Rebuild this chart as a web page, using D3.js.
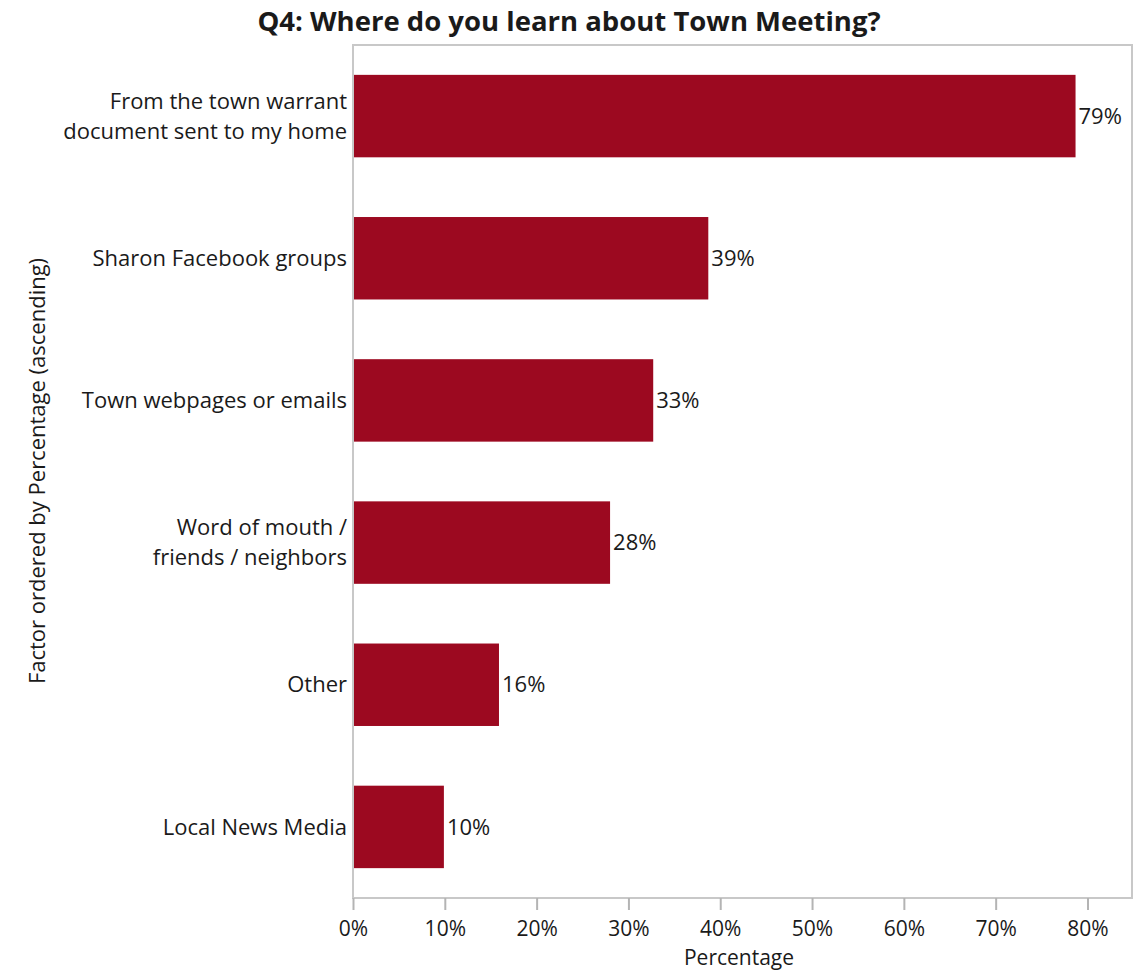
<!DOCTYPE html>
<html>
<head>
<meta charset="utf-8">
<script src="https://cdn.jsdelivr.net/npm/d3@7"></script>
<style>
  body { margin: 0; background: #fff; }
  text { font-family: "Open Sans", "Noto Sans", sans-serif; fill: #1a1a1a; }
</style>
</head>
<body>
<script>
const categories = [
  ['From the town warrant', 'document sent to my home'],
  ['Sharon Facebook groups'],
  ['Town webpages or emails'],
  ['Word of mouth /', 'friends / neighbors'],
  ['Other'],
  ['Local News Media'],
];
const values = [78.7, 38.7, 32.7, 28.0, 15.9, 9.9];
const valueLabels = ['79%', '39%', '33%', '28%', '16%', '10%'];
const xTicks = [0, 10, 20, 30, 40, 50, 60, 70, 80];

const W = 1142, H = 973;
const margin = { top: 45, right: 10, bottom: 75, left: 353 };
const width = W - margin.left - margin.right;
const height = H - margin.top - margin.bottom;

const svg = d3.select('body').append('svg')
  .attr('width', W)
  .attr('height', H);

svg.append('text')
  .attr('x', 569)
  .attr('y', 31)
  .attr('text-anchor', 'middle')
  .style('font-weight', 'bold')
  .style('font-size', '27.5px')
  .text('Q4: Where do you learn about Town Meeting?');

const g = svg.append('g')
  .attr('transform', `translate(${margin.left},${margin.top})`);

const x = d3.scaleLinear()
  .domain([0, 84.85])
  .range([0, width]);

const y = d3.scaleBand()
  .domain(d3.range(categories.length))
  .range([0, height])
  .paddingInner(0.42)
  .paddingOuter(0.21);

// frame
g.append('rect')
  .attr('width', width)
  .attr('height', height)
  .attr('fill', 'none')
  .attr('stroke', '#c8c8c8')
  .attr('stroke-width', 2);

g.selectAll('.bar')
  .data(values)
  .enter().append('rect')
  .attr('class', 'bar')
  .attr('x', 1)
  .attr('y', (d, i) => y(i))
  .attr('width', d => x(d) - 1)
  .attr('height', y.bandwidth())
  .attr('fill', '#9c0920');

g.selectAll('.val')
  .data(values)
  .enter().append('text')
  .attr('class', 'val')
  .attr('x', d => x(d) + 3)
  .attr('y', (d, i) => y(i) + y.bandwidth() / 2)
  .attr('dy', '0.35em')
  .style('font-size', '22px')
  .text((d, i) => valueLabels[i]);

// category labels
const cat = g.selectAll('.cat')
  .data(categories)
  .enter().append('text')
  .attr('class', 'cat')
  .attr('text-anchor', 'end')
  .attr('x', -6)
  .attr('y', (d, i) => y(i) + y.bandwidth() / 2)
  .style('font-size', '22px');

cat.selectAll('tspan')
  .data(d => d.map((t, j) => ({ t, j, n: d.length })))
  .enter().append('tspan')
  .attr('x', -6)
  .attr('dy', d => d.j === 0 ? `${0.35 - (d.n - 1) * 0.68}em` : '1.36em')
  .text(d => d.t);

// x axis
const xAxis = g.append('g')
  .attr('transform', `translate(0,${height})`)
  .call(d3.axisBottom(x).tickValues(xTicks).tickFormat(d => d + '%').tickSize(12).tickSizeOuter(0));
xAxis.select('.domain').remove();
xAxis.selectAll('line').attr('stroke', '#b4b4b4').attr('stroke-width', 2);
xAxis.selectAll('text')
  .attr('dy', '0.75em')
  .attr('y', 22)
  .style('font-size', '21px')
  .style('font-family', '"Open Sans", sans-serif')
  .attr('fill', '#1a1a1a');

svg.append('text')
  .attr('x', 739)
  .attr('y', 965)
  .attr('text-anchor', 'middle')
  .style('font-size', '21px')
  .text('Percentage');

svg.append('text')
  .attr('transform', 'translate(45,471) rotate(-90)')
  .attr('text-anchor', 'middle')
  .style('font-size', '22px')
  .text('Factor ordered by Percentage (ascending)');
</script>
</body>
</html>
